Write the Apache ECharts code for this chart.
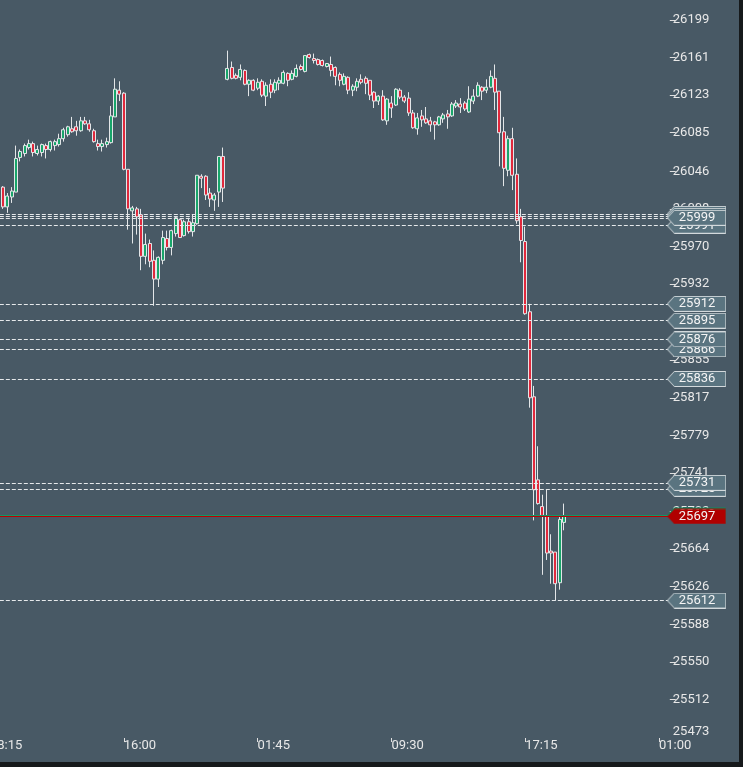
<!DOCTYPE html>
<html><head><meta charset="utf-8">
<script src="https://cdn.jsdelivr.net/npm/echarts@6/dist/echarts.min.js"></script>
<style>
html,body{margin:0;padding:0;background:#16191b;width:743px;height:767px;overflow:hidden;position:relative}
#wrap{position:absolute;left:0;top:0;width:739px;height:762px;overflow:hidden;background:#485965}
#c{position:absolute;left:-13px;top:0;width:752px;height:762px}
</style></head><body><div id="wrap"><div id="c"></div></div>
<script>
// ---- data ----
const candleOpen = [
26030,26010,26020,26025,26060,26064,26070,26074,26064,26065,
26072,26068,26072,26073,26079,26083,26089,26091,26087,26097,
26094,26087,26074,26071,26073,26075,26101,26128,26125,26048,
26006,26008,26002,25960,25973,25956,25937,25956,25978,25969,
25983,25997,25981,25995,25985,25993,26041,26041,26024,26017,
26025,26061,
26139,26151,26143,26141,26148,26134,26138,26130,26137,26122,
26134,26128,26135,26135,26145,26139,26142,26152,26147,26164,
26160,26159,26158,26152,26154,26151,26144,26134,26141,26128,
26131,26139,26140,26138,26126,26117,26122,26097,26115,26113,
26128,26121,26120,26105,26089,26102,26099,26097,26096,26093,
26099,26104,26102,26112,26114,26115,26106,26117,26122,26131,
26128,26131,26140,26127,26086,26047,26079,26043,26000,25975,
25904,25818,25734,25707,25697,25662,25661,25630,25691];
const candleClose = [
26010,26021,26026,26059,26066,26072,26074,26065,26068,26073,
26068,26076,26076,26079,26088,26091,26086,26087,26097,26094,
26088,26076,26071,26074,26076,26102,26129,26124,26048,26008,
26009,26000,25960,25972,25955,25937,25959,25979,25969,25986,
25999,25979,25995,25985,25994,26042,26039,26022,26018,26022,
26061,26029,
26150,26140,26140,26149,26134,26138,26128,26136,26123,26133,
26126,26136,26138,26146,26138,26145,26150,26149,26163,26161,
26158,26154,26153,26155,26148,26142,26138,26142,26128,26132,
26137,26136,26135,26123,26117,26122,26098,26119,26110,26129,
26121,26117,26105,26090,26100,26098,26095,26093,26093,26101,
26103,26101,26114,26115,26111,26109,26119,26122,26133,26127,
26131,26142,26126,26085,26049,26079,26042,25996,25976,25902,
25817,25724,25710,25698,25660,25660,25629,25694,25697];
const candleLow = [
26008,26004,26014,26025,26056,26061,26068,26061,26062,26061,
26059,26066,26067,26071,26076,26081,26085,26082,26086,26093,
26086,26075,26067,26066,26070,26074,26101,26117,26047,25987,
25973,25982,25946,25952,25949,25910,25929,25952,25966,25961,
25980,25979,25980,25983,25980,25992,26029,26017,26010,26006,
26010,26015,
26138,26139,26139,26138,26133,26122,26127,26128,26121,26112,
26120,26125,26128,26134,26132,26138,26141,26148,26146,26160,
26155,26153,26152,26151,26142,26133,26132,26133,26124,26122,
26127,26134,26124,26118,26110,26113,26097,26093,26100,26112,
26119,26115,26102,26089,26083,26091,26094,26086,26078,26092,
26095,26089,26101,26110,26105,26107,26105,26114,26121,26118,
26125,26130,26108,26051,26031,26041,26027,25993,25954,25901,
25807,25693,25709,25638,25653,25629,25612,25623,25683];
const candleHigh = [
26031,26024,26030,26072,26068,26074,26078,26076,26072,26074,
26074,26077,26078,26084,26090,26092,26101,26097,26101,26101,
26098,26089,26078,26078,26080,26112,26140,26137,26126,26048,
26011,26010,26008,25983,25977,25966,25960,25986,25986,25987,
26000,25998,25997,25999,26002,26042,26043,26042,26029,26024,
26061,26070,
26168,26157,26145,26154,26149,26139,26139,26140,26139,26136,
26139,26139,26141,26148,26146,26148,26154,26154,26163,26165,
26165,26160,26159,26155,26162,26152,26146,26145,26142,26134,
26140,26144,26142,26138,26127,26123,26128,26120,26122,26130,
26130,26123,26126,26108,26105,26108,26111,26101,26097,26102,
26105,26108,26116,26118,26120,26117,26132,26129,26136,26132,
26139,26148,26154,26127,26101,26082,26090,26059,26008,25990,
25912,25829,25768,25719,25724,25679,25661,25698,25710];

const levelLines = [26003, 26001, 25991, 25999, 25912, 25895, 25866, 25876, 25836, 25725, 25731, 25612];
const askLevel = 25698.5;
const yTicks = [25473,25512,25550,25588,25626,25664,25702,25741,25779,25817,25855,25893,25932,25970,26008,26046,26085,26123,26161,26199];
const firstTime = '08:15';
const sessionBreakIndex = 55;   // 22:00 -> 00:00 gap
const leadingSlots = 3;
const totalSlots = 158;

// ---- categories (15 minute bars) ----
function fmt(m){const h=Math.floor(m/60)%24, mm=m%60;return String(h).padStart(2,'0')+':'+String(mm).padStart(2,'0');}
const categories=[];
let t = parseInt(firstTime)*60 + parseInt(firstTime.slice(3));
for(let i=0;i<totalSlots;i++){ if(i===sessionBreakIndex) t=0; categories.push(fmt(t)); t=(t+15)%1440; }

const candleData = categories.map((c,i)=>{const j=i-leadingSlots;
  return (j>=0 && j<candleOpen.length)?[candleOpen[j],candleClose[j],candleLow[j],candleHigh[j]]:'-';});
const lastClose = candleClose[candleClose.length-1];

// ---- tag background images ----
function tagImage(fill, stroke, w, h){
  const cv=document.createElement('canvas'); cv.width=w; cv.height=h;
  const g=cv.getContext('2d');
  g.beginPath(); g.moveTo(0.5,h/2); g.lineTo(7.5,0.5); g.lineTo(w-0.5,0.5); g.lineTo(w-0.5,h-0.5); g.lineTo(7.5,h-0.5); g.closePath();
  g.fillStyle=fill; g.fill();
  if(stroke){g.strokeStyle=stroke; g.lineWidth=1; g.stroke();}
  return cv;
}
const TW=60, TH=16;
const grayTag = tagImage('#5a7480','#d3d9dc',TW,TH);
const redTag = tagImage('#b00000',null,TW,TH);
const greenTag = tagImage('#0b8f5e',null,TW,TH);

const tagLabel = (img)=>({show:true, position:'end', distance:-3,
  formatter:p=>String(Math.round(p.value)), color:'#f4f4f4', fontFamily:'Roboto', fontSize:13,
  lineHeight:14, padding:[1,11,1,12], backgroundColor:{image:img}});

const markData = levelLines.map(v=>({yAxis:v, lineStyle:{color:'#e6e9eb',type:[4,2],width:1}, label:tagLabel(grayTag)}));
markData.push({yAxis:askLevel, lineStyle:{color:'#0f9a64',type:'solid',width:1}, label:tagLabel(greenTag)});
markData.push({yAxis:lastClose, lineStyle:{color:'#c00000',type:'solid',width:1}, label:tagLabel(redTag)});

const chart = echarts.init(document.getElementById('c'));
chart.setOption({
  animation:false,
  backgroundColor:'#485965',
  grid:{left:0, right:69.2, top:0, bottom:24, containLabel:false},
  xAxis:{type:'category', data:categories, boundaryGap:true,
    axisLine:{show:false},
    axisTick:{show:true, interval:30, alignWithLabel:true, length:4, lineStyle:{color:'#e0e0e0'}},
    axisLabel:{interval:30, align:'left', margin:1, color:'#e8e8e8', fontFamily:'Roboto', fontSize:13},
    splitLine:{show:false}},
  yAxis:{type:'value', position:'right', min:25473, max:26219.2, scale:true,
    axisLine:{show:false}, splitLine:{show:false},
    axisTick:{show:true, length:6, customValues:yTicks.filter(v=>v!==yTicks[0]), lineStyle:{color:'#e0e0e0'}},
    axisLabel:{margin:3, customValues:yTicks, color:'#e8e8e8', fontFamily:'Roboto', fontSize:13,
      formatter:v=> v===yTicks[0] ? '{low|'+v+'}' : String(v),
      rich:{low:{padding:[0,0,12,0], color:'#e8e8e8', fontFamily:'Roboto', fontSize:13}}}},
  series:[{
    type:'candlestick', data:candleData, barWidth:3.5, clip:false,
    itemStyle:{color:'#18a56a', color0:'#e0283c', borderColor:'#e3e6e8', borderColor0:'#e3e6e8', borderWidth:1},
    markLine:{silent:true, symbol:['none','none'], animation:false, data:markData}
  }]
});
</script></body></html>
